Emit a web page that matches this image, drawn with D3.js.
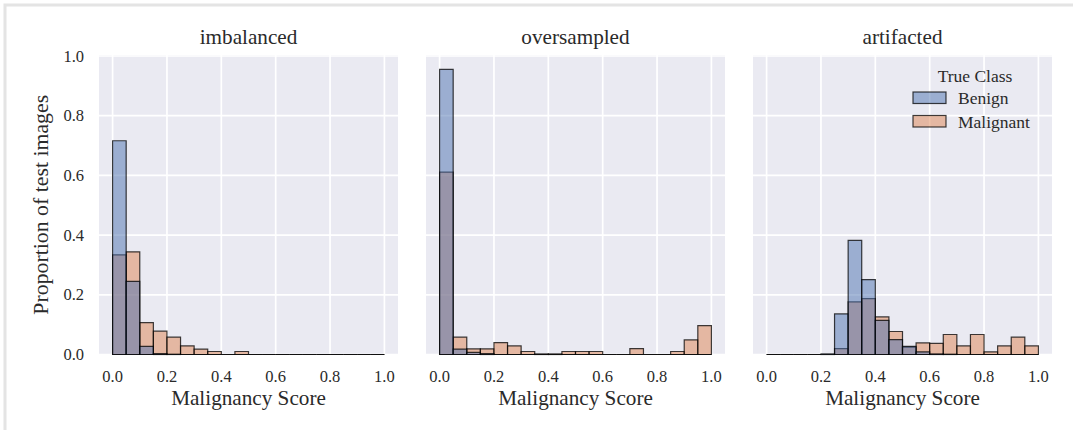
<!DOCTYPE html>
<html lang="en">
<head>
<meta charset="UTF-8">
<title>Malignancy score histograms</title>
<style>
  body { margin: 0; padding: 0; background: #fff; overflow: hidden; }
  svg { display: block; font-family: "Liberation Serif", "DejaVu Serif", serif; }
</style>
</head>
<body>
<div id="chart"></div>
<script src="https://d3js.org/d3.v7.min.js"></script>
<script>
// bins (left edge), width 0.05
const binStarts = [0, 0.05, 0.1, 0.15, 0.2, 0.25, 0.3, 0.35, 0.4, 0.45,
                   0.5, 0.55, 0.6, 0.65, 0.7, 0.75, 0.8, 0.85, 0.9, 0.95];
const binWidth = 0.05;

const panelTitles = ["imbalanced", "oversampled", "artifacted"];
const classes = ["Benign", "Malignant"];

// proportion of test images per bin
const imbalancedBenign =    [0.716, 0.245, 0.027, 0.003, 0.001, 0, 0, 0, 0, 0, 0, 0, 0, 0, 0, 0, 0, 0, 0, 0];
const imbalancedMalignant = [0.334, 0.344, 0.107, 0.078, 0.058, 0.029, 0.018, 0.01, 0, 0.01, 0, 0, 0, 0, 0, 0, 0, 0, 0, 0];
const oversampledBenign =    [0.955, 0.018, 0.007, 0.003, 0, 0, 0, 0, 0, 0, 0, 0, 0, 0, 0, 0, 0, 0, 0, 0];
const oversampledMalignant = [0.611, 0.058, 0.019, 0.019, 0.04, 0.029, 0.01, 0.002, 0.002, 0.01, 0.01, 0.01, 0, 0, 0.02, 0, 0, 0.01, 0.049, 0.097];
const artifactedBenign =    [0, 0, 0, 0, 0.002, 0.136, 0.382, 0.251, 0.114, 0.05, 0.027, 0.009, 0.002, 0.001, 0, 0, 0, 0, 0, 0];
const artifactedMalignant = [0, 0, 0, 0, 0, 0.02, 0.176, 0.187, 0.126, 0.077, 0.025, 0.039, 0.037, 0.067, 0.029, 0.067, 0.009, 0.029, 0.058, 0.029];

const panelData = [
  [imbalancedBenign, imbalancedMalignant],
  [oversampledBenign, oversampledMalignant],
  [artifactedBenign, artifactedMalignant]
];

const xTicks = [0, 0.2, 0.4, 0.6, 0.8, 1.0];
const yTicks = [0, 0.2, 0.4, 0.6, 0.8, 1.0];

const width = 1073, height = 430;
const colors = { Benign: "#4c72b0", Malignant: "#dd8452" };
const panelLeft = [99, 426, 753];
const panelW = 299;
const axTop = 55, axBottom = 354.5;
const textColor = "#2a2a2a";

const svg = d3.select("#chart").append("svg")
  .attr("width", width)
  .attr("height", height);

// light frame round the figure
svg.append("rect")
  .attr("x", 5).attr("y", 5)
  .attr("width", width + 20).attr("height", height + 20)
  .attr("fill", "none")
  .attr("stroke", "#e4e4e4")
  .attr("stroke-width", 3);

const y = d3.scaleLinear().domain([0, 1]).range([axBottom, 56]);

panelTitles.forEach((title, p) => {
  const x = d3.scaleLinear().domain([-0.05, 1.05]).range([panelLeft[p], panelLeft[p] + panelW]);
  const g = svg.append("g");

  g.append("rect")
    .attr("x", panelLeft[p]).attr("y", axTop)
    .attr("width", panelW).attr("height", axBottom - axTop)
    .attr("fill", "#eaeaf2");

  // grid
  g.selectAll("line.gx").data(xTicks).enter().append("line")
    .attr("x1", d => x(d)).attr("x2", d => x(d))
    .attr("y1", axTop).attr("y2", axBottom)
    .attr("stroke", "#fff").attr("stroke-width", 1.7);
  g.selectAll("line.gy").data(yTicks).enter().append("line")
    .attr("x1", panelLeft[p]).attr("x2", panelLeft[p] + panelW)
    .attr("y1", d => y(d)).attr("y2", d => y(d))
    .attr("stroke", "#fff").attr("stroke-width", 1.7);

  // bars: malignant first, benign over it
  [1, 0].forEach(c => {
    const vals = panelData[p][c];
    g.selectAll(null).data(binStarts).enter().append("path")
      .attr("d", (d, i) => {
        const x0 = x(d), x1 = x(d + binWidth);
        const y0 = y(0), y1 = y(vals[i]);
        return `M${x0},${y0}V${y1}H${x1}V${y0}Z`;
      })
      .attr("fill", colors[classes[c]])
      .attr("fill-opacity", 0.5)
      .attr("stroke", "#000")
      .attr("stroke-opacity", 0.75)
      .attr("stroke-width", 1.2);
  });

  // x tick labels
  g.selectAll("text.xt").data(xTicks).enter().append("text")
    .attr("x", d => x(d)).attr("y", 382)
    .attr("text-anchor", "middle")
    .attr("font-size", 16.5).attr("fill", textColor)
    .text(d => d.toFixed(1));

  g.append("text")
    .attr("x", panelLeft[p] + panelW / 2).attr("y", 44)
    .attr("text-anchor", "middle")
    .attr("font-size", 21.2).attr("fill", textColor)
    .text(title);

  g.append("text")
    .attr("x", panelLeft[p] + panelW / 2).attr("y", 405)
    .attr("text-anchor", "middle")
    .attr("font-size", 21.2).attr("fill", textColor)
    .text("Malignancy Score");
});

// y tick labels (shared)
svg.selectAll("text.yt").data(yTicks).enter().append("text")
  .attr("x", 84).attr("y", d => y(d) + 5.5)
  .attr("text-anchor", "end")
  .attr("font-size", 16.5).attr("fill", textColor)
  .text(d => d.toFixed(1));

svg.append("text")
  .attr("transform", `translate(48,${(axTop + axBottom) / 2}) rotate(-90)`)
  .attr("text-anchor", "middle")
  .attr("font-size", 21.8).attr("fill", textColor)
  .text("Proportion of test images");

// legend
const legend = svg.append("g").attr("transform", "translate(913,0)");
legend.append("text")
  .attr("x", 62).attr("y", 82)
  .attr("text-anchor", "middle")
  .attr("font-size", 17.5).attr("fill", textColor)
  .text("True Class");
classes.forEach((c, i) => {
  legend.append("rect")
    .attr("x", 0).attr("y", 92 + i * 23.5)
    .attr("width", 33).attr("height", 11.5)
    .attr("fill", colors[c]).attr("fill-opacity", 0.5)
    .attr("stroke", "#000").attr("stroke-opacity", 0.75)
    .attr("stroke-width", 1.2);
  legend.append("text")
    .attr("x", 45).attr("y", 104 + i * 23.5)
    .attr("font-size", 17.5).attr("fill", textColor)
    .text(c);
});
</script>
</body>
</html>
